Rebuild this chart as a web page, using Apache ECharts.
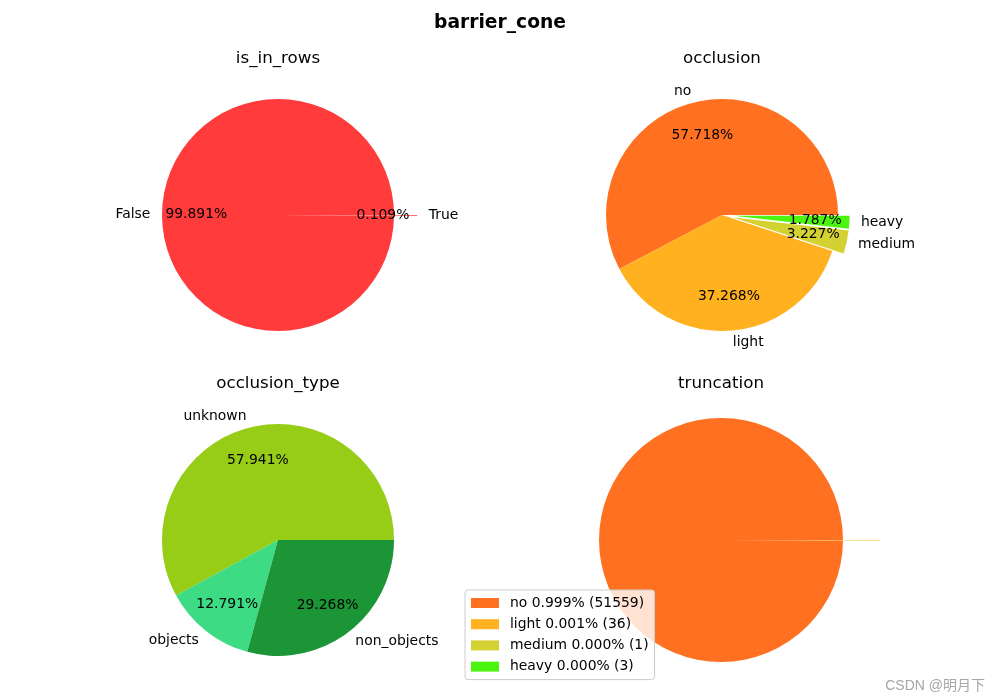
<!DOCTYPE html>
<html>
<head>
<meta charset="utf-8">
<script src="https://cdn.jsdelivr.net/npm/echarts@6/dist/echarts.min.js"></script>
<style>html,body{margin:0;padding:0;background:#fff}#c{width:1000px;height:700px}</style>
</head>
<body>
<div id="c"></div>
<script>
// ---- data ----
const suptitle = 'barrier_cone';

const isInRowsNames = ['False', 'True'];
const isInRowsValues = [99.891, 0.109];

const occlusionNames = ['no', 'light', 'medium', 'heavy'];
const occlusionValues = [57.718, 37.268, 3.227, 1.787];

const occlusionTypeNames = ['unknown', 'objects', 'non_objects'];
const occlusionTypeValues = [57.941, 12.791, 29.268];

const truncationNames = ['no', 'light', 'medium', 'heavy'];
const truncationCounts = [51559, 36, 1, 3];

// ---- styles ----
const FONT = 'DejaVu Sans';
const isInRowsColors = ['#ff3b3b', '#ff3b3b'];
const occColors = ['#ff7120', '#ffb120', '#d4d132', '#4cf50f'];
const occTypeColors = ['#97cc17', '#3ddc84', '#1b9536'];

const pies = [
  { title: 'is_in_rows', names: isInRowsNames, values: isInRowsValues, colors: isInRowsColors,
    explode: [0, 0.2], cx: 278, cy: 215, r: 116, labels: true, titleTop: 50 },
  { title: 'occlusion', names: occlusionNames, values: occlusionValues, colors: occColors,
    explode: [0, 0, 0.1, 0.1], cx: 722, cy: 215, r: 116, labels: true, titleTop: 50 },
  { title: 'occlusion_type', names: occlusionTypeNames, values: occlusionTypeValues, colors: occTypeColors,
    explode: [0, 0, 0], cx: 278, cy: 540, r: 116, labels: true, titleTop: 375 },
  { title: 'truncation', names: truncationNames, values: truncationCounts, colors: occColors,
    explode: [0, 0.3, 0.3, 0.3], cx: 721, cy: 540, r: 122, labels: false, titleTop: 375 }
];

const TRANSPARENT = 'rgba(0,0,0,0)';
const series = [];
const titles = [];

pies.forEach(function (p) {
  const total = p.values.reduce((a, b) => a + b, 0);
  let cum = 0;
  const mids = p.values.map(function (v) {
    const m = (cum + v / 2) / total * 360;
    cum += v;
    return m;
  });
  p.values.forEach(function (v, i) {
    const a = mids[i] * Math.PI / 180;
    const off = p.explode[i] * p.r;
    const cx = p.cx + off * Math.cos(a);
    const cy = p.cy - off * Math.sin(a);
    const mkData = function (showLabel, colored) {
      return p.values.map(function (val, j) {
        return {
          name: p.names[j],
          value: val,
          itemStyle: { color: (colored && j === i) ? p.colors[j] : TRANSPARENT, borderWidth: 0 },
          label: { show: showLabel && j === i }
        };
      });
    };
    // wedge + name label at 1.1 r
    series.push({
      type: 'pie', silent: true, animation: false,
      center: [cx, cy], radius: [0, p.r],
      startAngle: 0, clockwise: false, minAngle: 0,
      avoidLabelOverlap: false, legendHoverLink: false,
      itemStyle: { borderWidth: 0 },
      label: {
        position: 'outside', color: '#000', fontFamily: FONT, fontSize: 13.9,
        formatter: '{b}', distanceToLabelLine: 0, alignTo: 'none'
      },
      labelLine: { show: false, length: 0.1 * p.r, length2: 0 },
      emphasis: { disabled: true },
      data: mkData(p.labels, true)
    });
    // percentage label at ~0.7 r
    if (p.labels) {
      series.push({
        type: 'pie', silent: true, animation: false,
        center: [cx, cy], radius: [0.4 * p.r - 5, p.r],
        startAngle: 0, clockwise: false, minAngle: 0,
        avoidLabelOverlap: false, legendHoverLink: false,
        itemStyle: { borderWidth: 0, color: TRANSPARENT },
        label: {
          position: 'inside', color: '#000', fontFamily: FONT, fontSize: 13.9,
          formatter: function (prm) { return prm.value.toFixed(3) + '%'; }
        },
        labelLine: { show: false },
        emphasis: { disabled: true },
        data: mkData(true, false)
      });
    }
  });
  titles.push({
    text: p.title, left: p.cx, top: p.titleTop,
    textAlign: 'center', padding: 0,
    textStyle: { fontFamily: FONT, fontSize: 16.7, fontWeight: 'normal', color: '#000' }
  });
});

titles.unshift({
  text: suptitle, left: 500, top: 14, textAlign: 'center', padding: 0,
  textStyle: { fontFamily: FONT, fontSize: 18.7, fontWeight: 'bold', color: '#000' }
});
titles.push({
  text: 'CSDN @明月下', right: 15, bottom: 7, padding: 0,
  textStyle: { fontFamily: 'Liberation Sans, Noto Sans CJK SC', fontSize: 14, fontWeight: 'normal', color: '#a6a6a6' }
});

const truncTotal = truncationCounts.reduce((a, b) => a + b, 0);
const legendData = truncationNames.map(function (n, i) {
  return { name: n, itemStyle: { color: occColors[i] } };
});

const chart = echarts.init(document.getElementById('c'), null, { renderer: 'canvas' });
chart.setOption({
  backgroundColor: '#fff',
  animation: false,
  title: titles,
  legend: {
    orient: 'vertical', left: 465, top: 590,
    icon: 'rect', itemWidth: 28, itemHeight: 10, itemGap: 7.2,
    padding: [6, 6, 6, 6],
    backgroundColor: 'rgba(255,255,255,0.8)', borderColor: '#cccccc', borderWidth: 1, borderRadius: 3,
    selectedMode: false,
    textStyle: { fontFamily: FONT, fontSize: 13.9, color: '#000', padding: [0, 0, 0, 6] },
    formatter: function (name) {
      const i = truncationNames.indexOf(name);
      return name + ' ' + (truncationCounts[i] / truncTotal).toFixed(3) + '% (' + truncationCounts[i] + ')';
    },
    data: legendData
  },
  series: series
});
</script>
</body>
</html>
